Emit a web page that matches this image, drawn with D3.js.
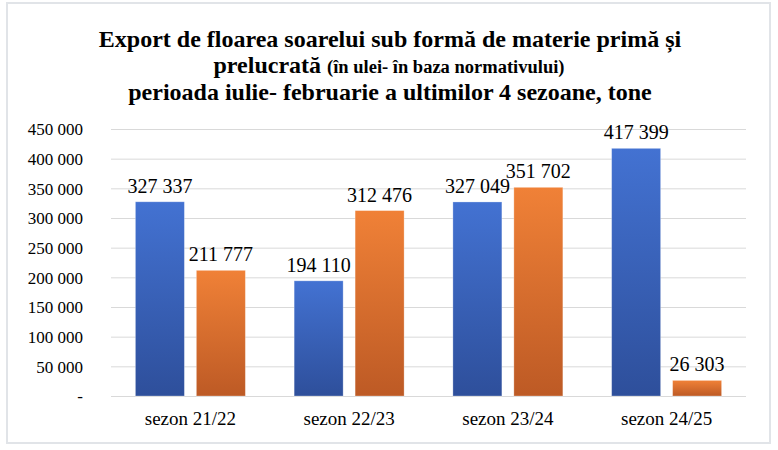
<!DOCTYPE html>
<html>
<head>
<meta charset="utf-8">
<style>
    body { margin: 0; background: #fff; }
    svg { display: block; font-family: 'Liberation Serif', 'Times New Roman', serif; }
    .grid line { stroke: #d9d9d9; stroke-width: 1; }
    .grid .domain { display: none; }
    .y .domain, .y .tick line { display: none; }
    .y .tick text { font-size: 17px; fill: #000; }
    .x .domain, .x .tick line { display: none; }
    .x .tick text { font-size: 19px; fill: #000; }
    .value { font-size: 20px; fill: #000; }
    .title { font-weight: bold; fill: #000; }
</style>
</head>
<body>
<svg width="778" height="450"></svg>
<script src="https://d3js.org/d3.v7.min.js"></script>
<script>
    // values
    let seasons = ["sezon 21/22", "sezon 22/23", "sezon 23/24", "sezon 24/25"]
    let series = ["materie prima", "prelucrata"]
    let rawValues = [327337, 194110, 327049, 417399]
    let processedValues = [211777, 312476, 351702, 26303]
    let yTicks = [0, 50000, 100000, 150000, 200000, 250000, 300000, 350000, 400000, 450000]

    let width = 778
    let height = 450
    let margin = { top: 129, right: 32, bottom: 54, left: 111 }
    let serif = "'Liberation Serif', 'Times New Roman', serif"

    let svg = d3.select("svg")

    // frame
    svg.append("rect")
        .attr("x", 7).attr("y", 3)
        .attr("width", 763).attr("height", 440)
        .attr("fill", "none")
        .attr("stroke", "#e1e4e8")
        .attr("stroke-width", 2)

    // gradients for the bars
    let defs = svg.append("defs")
    let grads = [
        { id: "g-blue", top: "#4372d2", bottom: "#2e4f9b" },
        { id: "g-orange", top: "#f08137", bottom: "#bd5a25" }
    ]
    grads.forEach(g => {
        let lg = defs.append("linearGradient")
            .attr("id", g.id)
            .attr("x1", 0).attr("y1", 0).attr("x2", 0).attr("y2", 1)
        lg.append("stop").attr("offset", "0%").attr("stop-color", g.top)
        lg.append("stop").attr("offset", "100%").attr("stop-color", g.bottom)
    })

    // title
    let title = svg.append("text")
        .attr("class", "title")
        .attr("text-anchor", "middle")
    title.append("tspan")
        .attr("x", 390).attr("y", 47)
        .attr("font-size", "24px")
        .text("Export de floarea soarelui sub formă de materie primă și")
    let l2 = title.append("tspan")
        .attr("x", 389).attr("y", 73)
    l2.append("tspan").attr("font-size", "24px").text("prelucrată ")
    l2.append("tspan").attr("font-size", "18.5px").text("(în ulei- în baza normativului)")
    title.append("tspan")
        .attr("x", 390).attr("y", 100)
        .attr("font-size", "24px")
        .text("perioada iulie- februarie a ultimilor 4 sezoane, tone")

    let x = d3.scaleBand()
        .domain(seasons)
        .range([margin.left, width - margin.right])

    let xInner = d3.scaleBand()
        .domain(series)
        .range([24.4, x.bandwidth() - 24.4])
        .paddingInner(12 / 61)

    let y = d3.scaleLinear()
        .domain([0, 450000])
        .range([height - margin.bottom, margin.top])

    // grid
    svg.append("g")
        .attr("class", "grid")
        .attr("transform", `translate(${margin.left},0)`)
        .call(d3.axisLeft(y).tickValues(yTicks).tickSize(-(width - margin.left - margin.right)).tickFormat(""))

    let fmt = d => d === 0 ? "-" : d3.format(",")(d).replace(/,/g, " ")

    svg.append("g")
        .attr("class", "y axis")
        .attr("transform", `translate(83,0)`)
        .call(d3.axisLeft(y).tickValues(yTicks).tickSize(0).tickPadding(0).tickFormat(fmt))
        .attr("font-family", serif)
        .attr("font-size", null)
        .call(g => g.selectAll(".tick text").attr("dy", "0.35em"))

    svg.append("g")
        .attr("class", "x axis")
        .attr("transform", `translate(0,${height - margin.bottom})`)
        .call(d3.axisBottom(x).tickSize(0).tickPadding(16))
        .attr("font-family", serif)
        .attr("font-size", null)

    let rows = seasons.map((s, i) => ({
        season: s,
        values: [
            { key: series[0], value: rawValues[i], fill: "url(#g-blue)" },
            { key: series[1], value: processedValues[i], fill: "url(#g-orange)" }
        ]
    }))

    let groups = svg.append("g")
        .selectAll("g")
        .data(rows)
        .join("g")
        .attr("transform", d => `translate(${x(d.season)},0)`)

    groups.selectAll("rect")
        .data(d => d.values)
        .join("rect")
        .attr("x", d => xInner(d.key))
        .attr("y", d => y(d.value))
        .attr("width", xInner.bandwidth())
        .attr("height", d => y(0) - y(d.value))
        .attr("fill", d => d.fill)
        .attr("stroke", "rgba(255,255,255,0.35)")
        .attr("stroke-width", 0.8)

    groups.selectAll("text")
        .data(d => d.values)
        .join("text")
        .attr("class", "value")
        .attr("text-anchor", "middle")
        .attr("x", d => xInner(d.key) + xInner.bandwidth() / 2)
        .attr("y", d => y(d.value) - 9)
        .text(d => fmt(d.value))
</script>
</body>
</html>
